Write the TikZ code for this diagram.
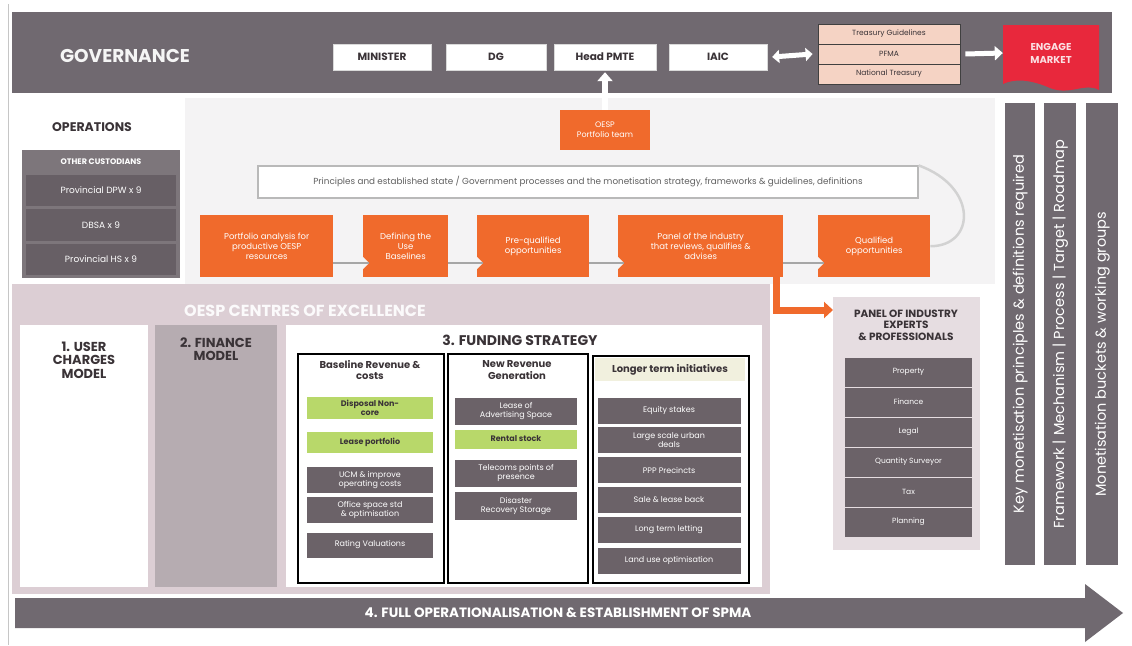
\documentclass[tikz,border=0pt]{standalone}
\usepackage{fontspec}
\setmainfont{Poppins}
\usetikzlibrary{arrows.meta}
\definecolor{govbg}{HTML}{706970}
\definecolor{itemgray}{HTML}{6B6268}
\definecolor{custbg}{HTML}{7D767B}
\definecolor{custrow}{HTML}{675F65}
\definecolor{orng}{HTML}{F06A2C}
\definecolor{grn}{HTML}{B8D86A}
\definecolor{peach}{HTML}{F5D3C4}
\definecolor{redm}{HTML}{E8283C}
\definecolor{coebg}{HTML}{DCCED4}
\definecolor{finbg}{HTML}{B6ACB1}
\definecolor{panbg}{HTML}{E6DDE1}
\definecolor{opsbg}{HTML}{F4F3F4}
\definecolor{darktxt}{HTML}{3A3337}
\definecolor{yelbg}{HTML}{F1F0DE}
\begin{document}
\begin{tikzpicture}[x=1pt,y=-1pt,
  every node/.style={inner sep=1pt, align=center},
  sz/.style 2 args={minimum width=#1, minimum height=#2},
  blockbg/.style={anchor=north west, inner sep=0pt},
  govbox/.style={fill=white, draw=gray!30, text=darktxt, font=\fontsize{10.5}{11}\selectfont\bfseries, minimum height=26},
  stackrow/.style={fill=peach, draw=black!75, line width=0.8pt, text=darktxt, font=\fontsize{7.5}{8}\selectfont, minimum width=142, minimum height=20},
  orangebox/.style={fill=orng, text=white, font=\fontsize{8.5}{10}\selectfont, anchor=north west, minimum height=62},
  gitem/.style={fill=itemgray, text=white, font=\fontsize{8}{8.8}\selectfont, inner sep=0.5pt},
  greenitem/.style={fill=grn, text=darktxt, font=\fontsize{8}{8.8}\selectfont\bfseries, inner sep=0.5pt},
  subcol/.style={draw=black, line width=1.8pt, anchor=north west, inner sep=0pt},
  colhead/.style={text=darktxt, font=\fontsize{10}{11.5}\selectfont\bfseries},
  bighead/.style={text=darktxt, font=\fontsize{13}{13.5}\selectfont\bfseries},
  vbar/.style={fill=govbg, anchor=north west, inner sep=0pt},
  vtext/.style={text=white, font=\fontsize{14.5}{15}\selectfont, rotate=90},
  conn/.style={draw=gray!70, line width=1.2pt},
  whtarrow/.style={draw=white, line width=5pt}
]
\useasboundingbox (0,0) rectangle (1132,645);
\fill[white] (0,0) rectangle (1132,645);
\draw[gray!45, line width=0.7pt] (8,4) -- (8,645);
\fill[opsbg] (185,98) rectangle (995,284);

% ---------------- governance ----------------
\node[blockbg, fill=govbg, sz={1100}{81}] (gov) at (12,12) {};
\node[text=white!92!gray, font=\fontsize{18.5}{19}\selectfont\bfseries] (govt) at (125,56) {GOVERNANCE};
\node[govbox, minimum width=98] (min) at (382,57) {MINISTER};
\node[govbox, minimum width=100] (dg) at (496,57) {DG};
\node[govbox, minimum width=102] (pmte) at (605,57) {Head PMTE};
\node[govbox, minimum width=98] (iaic) at (718,57) {IAIC};
\node[stackrow] (tg) at (889,34) {Treasury Guidelines};
\node[stackrow] (pf) at (889,54) {PFMA};
\node[stackrow] (nt) at (889,74) {National Treasury};
\draw[whtarrow, {Triangle[length=7pt,width=13pt]}-{Triangle[length=7pt,width=13pt]}] ([xshift=5pt]iaic.east) -- ([xshift=-5pt]pf.west);
\fill[redm] (1003,25) -- (1099,25) -- (1099,90) .. controls (1085,82) and (1070,96) .. (1050,88) .. controls (1032,80) and (1015,78) .. (1003,84) -- cycle;
\node[text=white!85!redm, font=\fontsize{10}{13}\selectfont\bfseries, sz={96}{56}] (mkt) at (1051,53) {ENGAGE\\MARKET};
\draw[whtarrow, -{Triangle[length=8pt,width=14pt]}] ([xshift=5pt]pf.east) -- (mkt.west);

% ---------------- operations ----------------
\node[text=darktxt, font=\fontsize{12.5}{13}\selectfont\bfseries] (opst) at (92,127) {OPERATIONS};
\node[blockbg, fill=custbg, sz={158}{128}] (cust) at (22,150) {};
\node[text=white, font=\fontsize{8}{9}\selectfont\bfseries] (custt) at (101,162) {OTHER CUSTODIANS};
\node[fill=custrow, text=white, font=\fontsize{9}{10}\selectfont, sz={150}{31}] (cr1) at (101,190) {Provincial DPW x 9};
\node[fill=custrow, text=white, font=\fontsize{9}{10}\selectfont, sz={150}{32}] (cr2) at (101,225) {DBSA x 9};
\node[fill=custrow, text=white, font=\fontsize{9}{10}\selectfont, sz={150}{31}] (cr3) at (101,259) {Provincial HS x 9};

\node[fill=orng, text=white, font=\fontsize{8}{10}\selectfont, sz={90}{40}] (oesp) at (605,130) {OESP\\Portfolio team};
\draw[whtarrow, line width=6pt, -{Triangle[length=9pt,width=15pt]}] (oesp.north) -- ([yshift=-2pt]pmte.south);

\node[fill=white, draw=gray!55, line width=1.2pt, text=gray!75!black, font=\fontsize{8.8}{10}\selectfont, sz={660}{32}] (ban) at (588,182) {Principles and established state / Government processes and the monetisation strategy, frameworks \& guidelines, definitions};

\node[orangebox, sz={133}{62}] (p1) at (200,215) {Portfolio analysis for\\productive OESP\\resources};
\node[orangebox, sz={85}{62}] (p2) at (363,215) {Defining the\\Use\\Baselines};
\node[orangebox, sz={112}{62}] (p3) at (477,215) {Pre-qualified\\opportunities};
\node[orangebox, sz={165}{62}] (p4) at (618,215) {Panel of the industry\\that reviews, qualifies \&\\advises};
\node[orangebox, sz={112}{62}] (p5) at (818,215) {Qualified\\opportunities};
\coordinate (lv) at (0,263);
\foreach \a/\b in {p1/p2,p2/p3,p3/p4,p4/p5}{
  \fill[opsbg] (\b.west |- lv) ++(0,-6) -- ++(6,6) -- ++(-6,6) -- cycle;
  \draw[conn] (\a.east |- lv) -- ([xshift=6pt]\b.west |- lv);
}
\draw[draw=gray!35, line width=2.5pt] (ban.north east) .. controls ([xshift=60pt,yshift=-5pt]ban.east) and ([xshift=45pt]p5.east) .. (p5.east);

% ---------------- centres of excellence ----------------
\node[blockbg, fill=coebg, sz={758}{310}] (coe) at (12,284) {};
\node[text=white!90!coebg, font=\fontsize{16}{17}\selectfont\bfseries] (coet) at (305,311) {OESP CENTRES OF EXCELLENCE};
\node[blockbg, fill=white, sz={128}{262}] (c1) at (20,325) {};
\node[bighead] (c1t) at (84,360) {1. USER\\CHARGES\\MODEL};
\node[blockbg, fill=finbg, sz={122}{262}] (c2) at (155,325) {};
\node[bighead] (c2t) at (216,349) {2. FINANCE\\MODEL};
\node[blockbg, fill=white, sz={476}{262}] (c3) at (286,325) {};
\node[bighead, font=\fontsize{14}{15}\selectfont\bfseries] (c3t) at (520,340) {3. FUNDING STRATEGY};

\node[subcol, sz={146}{229}] (sa) at (297,353) {};
\node[subcol, sz={140}{229}] (sb) at (447,353) {};
\node[subcol, sz={156}{227}] (sc) at (592,355) {};
\fill[yelbg] (595,358) rectangle (745,381);
\node[colhead] (sat) at (370,370) {Baseline Revenue \&\\costs};
\node[colhead] (sbt) at (517,370) {New Revenue\\Generation};
\node[colhead] (sct) at (670,370) {Longer term initiatives};

\node[greenitem, sz={126}{22}] (a1) at (370,408) {Disposal Non-\\core};
\node[greenitem, sz={126}{21}] (a2) at (370,442) {Lease portfolio};
\node[gitem, sz={126}{26}] (a3) at (370,480) {UCM \& improve\\operating costs};
\node[gitem, sz={126}{26}] (a4) at (370,510) {Office space std\\\& optimisation};
\node[gitem, sz={126}{25}] (a5) at (370,545) {Rating Valuations};

\node[gitem, sz={122}{27}] (b1) at (516,411) {Lease of\\Advertising Space};
\node[greenitem, sz={122}{19}] (b2) at (516,439) {Rental stock};
\node[gitem, sz={122}{27}] (b3) at (516,473) {Telecoms points of\\presence};
\node[gitem, sz={122}{28}] (b4) at (516,506) {Disaster\\Recovery Storage};

\node[gitem, sz={143}{26}] (l1) at (669,410.5) {Equity stakes};
\node[gitem, sz={143}{26}] (l2) at (669,440) {Large scale urban\\deals};
\node[gitem, sz={143}{26}] (l3) at (669,470) {PPP Precincts};
\node[gitem, sz={143}{26}] (l4) at (669,500) {Sale \& lease back};
\node[gitem, sz={143}{26}] (l5) at (669,530) {Long term letting};
\node[gitem, sz={143}{26}] (l6) at (669,560.5) {Land use optimisation};

% ---------------- panel of experts ----------------
\node[blockbg, fill=panbg, sz={147}{253}] (panel) at (833,297) {};
\node[colhead, font=\fontsize{10.5}{11.5}\selectfont\bfseries] (panelt) at (906,325) {PANEL OF INDUSTRY\\EXPERTS\\\& PROFESSIONALS};
\foreach \t [count=\i] in {Property,Finance,Legal,Quantity Surveyor,Tax,Planning}{
  \node[gitem, font=\fontsize{7.5}{8}\selectfont, sz={127}{29}] (e\i) at (908.5,342+30*\i) {\t};
}
\draw[draw=orng, line width=7pt, -{Triangle[length=9pt,width=16pt]}] ([xshift=-7pt]p4.south east) |- ([yshift=-13pt]panel.north west);

% ---------------- vertical bars ----------------
\node[vbar, sz={30}{462}] (v1) at (1005,103) {};
\node[vbar, sz={32}{462}] (v2) at (1044,103) {};
\node[vbar, sz={32}{462}] (v3) at (1086,103) {};
\node[vtext] (v1t) at (v1.center) {Key monetisation principles \& definitions required};
\node[vtext] (v2t) at (v2.center) {Framework | Mechanism | Process | Target | Roadmap};
\node[vtext] (v3t) at ([yshift=-20pt]v3.center) {Monetisation buckets \& working groups};

% ---------------- bottom arrow ----------------
\fill[govbg] (15,598) -- (1085,598) -- (1085,584) -- (1123,613) -- (1085,642) -- (1085,628) -- (15,628) -- cycle;
\node[text=white, font=\fontsize{13.5}{14}\selectfont\bfseries] (fullop) at (558,613) {4. FULL OPERATIONALISATION \& ESTABLISHMENT OF SPMA};
\end{tikzpicture}
\end{document}
